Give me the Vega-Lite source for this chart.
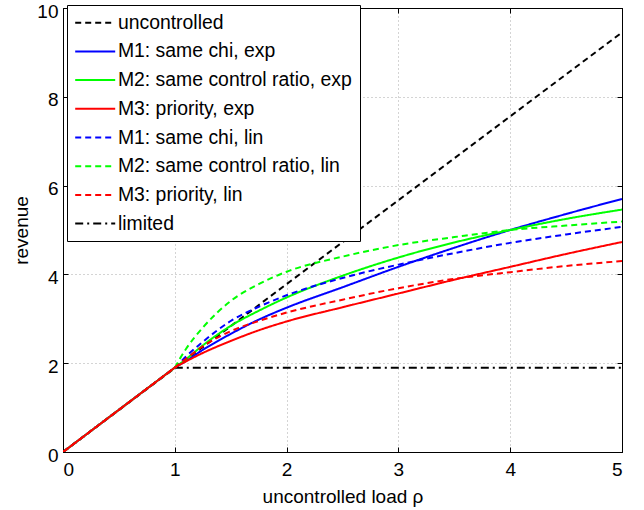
{
  "$schema": "https://vega.github.io/schema/vega-lite/v6.json",
  "width": 559,
  "height": 444,
  "autosize": {"type": "none"},
  "padding": {"left": 63, "top": 8, "right": 22, "bottom": 58},
  "background": "white",
  "config": {
    "font": "Liberation Sans",
    "view": {"stroke": "black", "strokeWidth": 1},
    "axis": {
      "labelFont": "Liberation Sans",
      "titleFont": "Liberation Sans",
      "labelFontSize": 19,
      "titleFontSize": 19,
      "titleFontWeight": "normal",
      "labelColor": "black",
      "titleColor": "black",
      "domainColor": "black",
      "tickColor": "black",
      "gridColor": "#a8a8a8",
      "gridDash": [1, 3],
      "gridWidth": 1
    }
  },
  "datasets": {
    "curves": [
      {"series": "uncontrolled", "rho": 0, "revenue": 0},
      {"series": "uncontrolled", "rho": 5, "revenue": 9.45},
      {"series": "limited", "rho": 1, "revenue": 1.9},
      {"series": "limited", "rho": 5, "revenue": 1.9},
      {"series": "M1: same chi, exp", "rho": 0, "revenue": 0},
      {"series": "M1: same chi, exp", "rho": 0.95, "revenue": 1.805},
      {"series": "M1: same chi, exp", "rho": 1, "revenue": 1.9},
      {"series": "M1: same chi, exp", "rho": 1.1, "revenue": 2.05},
      {"series": "M1: same chi, exp", "rho": 1.25, "revenue": 2.3},
      {"series": "M1: same chi, exp", "rho": 1.5, "revenue": 2.66},
      {"series": "M1: same chi, exp", "rho": 1.75, "revenue": 2.98},
      {"series": "M1: same chi, exp", "rho": 2, "revenue": 3.25},
      {"series": "M1: same chi, exp", "rho": 2.5, "revenue": 3.71},
      {"series": "M1: same chi, exp", "rho": 3, "revenue": 4.17},
      {"series": "M1: same chi, exp", "rho": 3.5, "revenue": 4.6},
      {"series": "M1: same chi, exp", "rho": 4, "revenue": 5.0},
      {"series": "M1: same chi, exp", "rho": 4.5, "revenue": 5.36},
      {"series": "M1: same chi, exp", "rho": 5, "revenue": 5.7},
      {"series": "M2: same control ratio, exp", "rho": 0, "revenue": 0},
      {"series": "M2: same control ratio, exp", "rho": 0.95, "revenue": 1.805},
      {"series": "M2: same control ratio, exp", "rho": 1, "revenue": 1.9},
      {"series": "M2: same control ratio, exp", "rho": 1.1, "revenue": 2.09},
      {"series": "M2: same control ratio, exp", "rho": 1.25, "revenue": 2.4},
      {"series": "M2: same control ratio, exp", "rho": 1.5, "revenue": 2.84},
      {"series": "M2: same control ratio, exp", "rho": 1.75, "revenue": 3.18},
      {"series": "M2: same control ratio, exp", "rho": 2, "revenue": 3.48},
      {"series": "M2: same control ratio, exp", "rho": 2.5, "revenue": 3.97},
      {"series": "M2: same control ratio, exp", "rho": 3, "revenue": 4.38},
      {"series": "M2: same control ratio, exp", "rho": 3.5, "revenue": 4.72},
      {"series": "M2: same control ratio, exp", "rho": 4, "revenue": 5.0},
      {"series": "M2: same control ratio, exp", "rho": 4.5, "revenue": 5.25},
      {"series": "M2: same control ratio, exp", "rho": 5, "revenue": 5.46},
      {"series": "M1: same chi, lin", "rho": 0, "revenue": 0},
      {"series": "M1: same chi, lin", "rho": 0.95, "revenue": 1.805},
      {"series": "M1: same chi, lin", "rho": 1, "revenue": 1.9},
      {"series": "M1: same chi, lin", "rho": 1.1, "revenue": 2.15},
      {"series": "M1: same chi, lin", "rho": 1.25, "revenue": 2.48},
      {"series": "M1: same chi, lin", "rho": 1.5, "revenue": 2.95},
      {"series": "M1: same chi, lin", "rho": 1.75, "revenue": 3.27},
      {"series": "M1: same chi, lin", "rho": 2, "revenue": 3.53},
      {"series": "M1: same chi, lin", "rho": 2.5, "revenue": 3.92},
      {"series": "M1: same chi, lin", "rho": 3, "revenue": 4.22},
      {"series": "M1: same chi, lin", "rho": 3.5, "revenue": 4.48},
      {"series": "M1: same chi, lin", "rho": 4, "revenue": 4.71},
      {"series": "M1: same chi, lin", "rho": 4.5, "revenue": 4.9},
      {"series": "M1: same chi, lin", "rho": 5, "revenue": 5.07},
      {"series": "M2: same control ratio, lin", "rho": 0, "revenue": 0},
      {"series": "M2: same control ratio, lin", "rho": 0.95, "revenue": 1.805},
      {"series": "M2: same control ratio, lin", "rho": 1, "revenue": 1.9},
      {"series": "M2: same control ratio, lin", "rho": 1.05, "revenue": 2.12},
      {"series": "M2: same control ratio, lin", "rho": 1.1, "revenue": 2.32},
      {"series": "M2: same control ratio, lin", "rho": 1.25, "revenue": 2.8},
      {"series": "M2: same control ratio, lin", "rho": 1.5, "revenue": 3.4},
      {"series": "M2: same control ratio, lin", "rho": 1.75, "revenue": 3.78},
      {"series": "M2: same control ratio, lin", "rho": 2, "revenue": 4.06},
      {"series": "M2: same control ratio, lin", "rho": 2.5, "revenue": 4.4},
      {"series": "M2: same control ratio, lin", "rho": 3, "revenue": 4.66},
      {"series": "M2: same control ratio, lin", "rho": 3.5, "revenue": 4.84},
      {"series": "M2: same control ratio, lin", "rho": 4, "revenue": 5.0},
      {"series": "M2: same control ratio, lin", "rho": 4.5, "revenue": 5.1},
      {"series": "M2: same control ratio, lin", "rho": 5, "revenue": 5.19},
      {"series": "M3: priority, lin", "rho": 0, "revenue": 0},
      {"series": "M3: priority, lin", "rho": 0.95, "revenue": 1.805},
      {"series": "M3: priority, lin", "rho": 1, "revenue": 1.9},
      {"series": "M3: priority, lin", "rho": 1.1, "revenue": 2.1},
      {"series": "M3: priority, lin", "rho": 1.25, "revenue": 2.38},
      {"series": "M3: priority, lin", "rho": 1.5, "revenue": 2.72},
      {"series": "M3: priority, lin", "rho": 1.75, "revenue": 2.95},
      {"series": "M3: priority, lin", "rho": 2, "revenue": 3.14},
      {"series": "M3: priority, lin", "rho": 2.5, "revenue": 3.43},
      {"series": "M3: priority, lin", "rho": 3, "revenue": 3.69},
      {"series": "M3: priority, lin", "rho": 3.5, "revenue": 3.9},
      {"series": "M3: priority, lin", "rho": 4, "revenue": 4.05},
      {"series": "M3: priority, lin", "rho": 4.5, "revenue": 4.19},
      {"series": "M3: priority, lin", "rho": 5, "revenue": 4.3},
      {"series": "M3: priority, exp", "rho": 0, "revenue": 0},
      {"series": "M3: priority, exp", "rho": 0.95, "revenue": 1.805},
      {"series": "M3: priority, exp", "rho": 1, "revenue": 1.9},
      {"series": "M3: priority, exp", "rho": 1.1, "revenue": 2.04},
      {"series": "M3: priority, exp", "rho": 1.25, "revenue": 2.23},
      {"series": "M3: priority, exp", "rho": 1.5, "revenue": 2.5},
      {"series": "M3: priority, exp", "rho": 1.75, "revenue": 2.74},
      {"series": "M3: priority, exp", "rho": 2, "revenue": 2.94},
      {"series": "M3: priority, exp", "rho": 2.5, "revenue": 3.26},
      {"series": "M3: priority, exp", "rho": 3, "revenue": 3.57},
      {"series": "M3: priority, exp", "rho": 3.5, "revenue": 3.88},
      {"series": "M3: priority, exp", "rho": 4, "revenue": 4.17},
      {"series": "M3: priority, exp", "rho": 4.5, "revenue": 4.46},
      {"series": "M3: priority, exp", "rho": 5, "revenue": 4.73}
    ]
  },
  "data": {"name": "curves"},
  "resolve": {"axis": {"x": "independent", "y": "independent"}},
  "layer": [
    {
      "mark": {"type": "line", "strokeWidth": 2, "interpolate": "monotone", "clip": true},
      "encoding": {
        "x": {
          "field": "rho", "type": "quantitative",
          "scale": {"domain": [0, 5], "nice": false},
          "axis": {"values": [0, 1, 2, 3, 4, 5], "title": "uncontrolled load ρ", "tickSize": -5, "labelPadding": 13, "titlePadding": 8, "grid": true}
        },
        "y": {
          "field": "revenue", "type": "quantitative",
          "scale": {"domain": [0, 10], "nice": false},
          "axis": {"values": [0, 2, 4, 6, 8, 10], "title": "revenue", "tickSize": -5, "labelPadding": 10, "labelOffset": 3, "titlePadding": 5, "grid": true}
        },
        "color": {
          "field": "series", "type": "nominal",
          "scale": {
            "domain": ["uncontrolled", "M1: same chi, exp", "M2: same control ratio, exp", "M3: priority, exp", "M1: same chi, lin", "M2: same control ratio, lin", "M3: priority, lin", "limited"],
            "range": ["#000000", "#0000ff", "#00ff00", "#ff0000", "#0000ff", "#00ff00", "#ff0000", "#000000"]
          },
          "sort": null,
          "legend": {
            "title": null,
            "orient": "none",
            "legendX": 4,
            "legendY": -3,
            "fillColor": "white",
            "strokeColor": "black",
            "padding": 8,
            "labelFont": "Liberation Sans",
            "labelFontSize": 19.4,
            "labelColor": "black",
            "symbolType": "M-2.5,0L2.5,0",
            "symbolSize": 256,
            "symbolStrokeWidth": 2,
            "symbolOffset": 10.5,
            "rowPadding": 7.7,
            "labelOffset": 13,
            "labelLimit": 400
          }
        },
        "strokeDash": {
          "field": "series", "type": "nominal",
          "scale": {
            "domain": ["uncontrolled", "M1: same chi, exp", "M2: same control ratio, exp", "M3: priority, exp", "M1: same chi, lin", "M2: same control ratio, lin", "M3: priority, lin", "limited"],
            "range": [[6, 4], [1, 0], [1, 0], [1, 0], [6, 4], [6, 4], [6, 4], [8, 4, 2, 4]]
          },
          "sort": null
        }
      }
    },
    {
      "mark": {"type": "point", "opacity": 0},
      "encoding": {
        "x": {"field": "rho", "type": "quantitative", "axis": {"orient": "top", "values": [0, 1, 2, 3, 4, 5], "labels": false, "title": null, "tickSize": -5, "grid": false}},
        "y": {"field": "revenue", "type": "quantitative", "axis": {"orient": "right", "values": [0, 2, 4, 6, 8, 10], "labels": false, "title": null, "tickSize": -5, "grid": false}}
      }
    }
  ]
}
